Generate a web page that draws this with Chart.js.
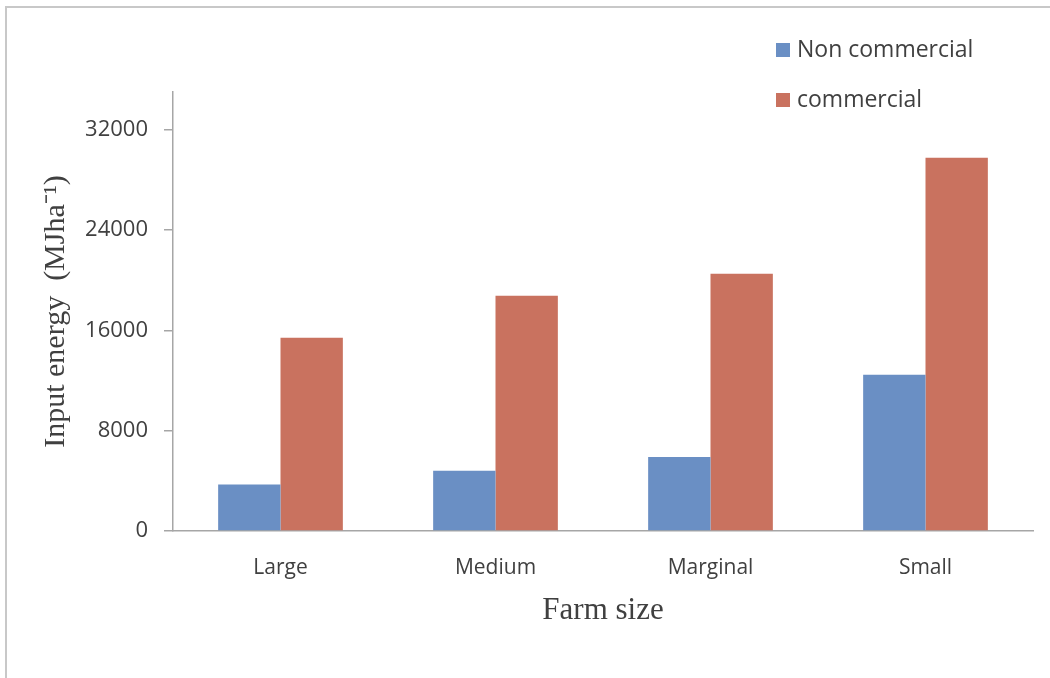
<!DOCTYPE html>
<html>
<head>
<meta charset="utf-8">
<script src="https://cdn.jsdelivr.net/npm/chart.js@4/dist/chart.umd.min.js"></script>
<style>
html,body{margin:0;padding:0;background:#fff;}
#wrap{width:1050px;height:678px;position:relative;}
</style>
</head>
<body>
<div id="wrap"><canvas id="c" width="1050" height="678"></canvas></div>
<script>
const categories = ["Large", "Medium", "Marginal", "Small"];
const seriesNames = ["Non commercial", "commercial"];
const nonCommercial = [3700, 4800, 5900, 12450];
const commercial = [15400, 18750, 20500, 29750];
const yTicks = [0, 8000, 16000, 24000, 32000];
const yMax = 35000;
const colors = ["#6a8fc4", "#c9725f"];
const axisColor = "#a6a6a6";
const textColor = "#404040";

const frameAndLegend = {
  id: "frameAndLegend",
  beforeDraw(chart) {
    const ctx = chart.ctx;
    ctx.save();
    ctx.fillStyle = "#fff";
    ctx.fillRect(0, 0, chart.width, chart.height);
    ctx.strokeStyle = "#c8c8c8";
    ctx.lineWidth = 2;
    ctx.beginPath();
    ctx.moveTo(6, chart.height);
    ctx.lineTo(6, 7);
    ctx.lineTo(chart.width, 7);
    ctx.stroke();
    ctx.restore();
  },
  afterDraw(chart) {
    const ctx = chart.ctx;
    ctx.save();
    ctx.font = "23px 'Open Sans'";
    ctx.textBaseline = "middle";
    chart.data.datasets.forEach((ds, i) => {
      const y = 50 + i * 50;
      ctx.fillStyle = ds.backgroundColor;
      ctx.fillRect(776, y - 7, 14, 14);
      ctx.fillStyle = textColor;
      ctx.fillText(ds.label, 797, y);
    });
    ctx.restore();
  }
};

new Chart(document.getElementById("c"), {
  type: "bar",
  data: {
    labels: categories,
    datasets: [
      { label: seriesNames[0], data: nonCommercial, backgroundColor: colors[0] },
      { label: seriesNames[1], data: commercial, backgroundColor: colors[1] }
    ]
  },
  options: {
    responsive: false,
    animation: false,
    devicePixelRatio: 1,
    layout: { padding: { left: 30, top: 92, right: 17, bottom: 47 } },
    datasets: { bar: { categoryPercentage: 0.58, barPercentage: 1.0, borderWidth: 0 } },
    plugins: { legend: { display: false }, tooltip: { enabled: false } },
    scales: {
      x: {
        grid: { display: false, drawTicks: false },
        border: { display: true, color: axisColor, width: 1.5 },
        ticks: { padding: 24, color: textColor, font: { family: "'Open Sans'", size: 21 } },
        title: { display: true, text: "Farm size", color: textColor,
                 font: { family: "'Liberation Serif'", size: 31 }, padding: { top: 0, bottom: 2 } },
        afterFit(s) { s.height = 100; }
      },
      y: {
        min: 0, max: yMax,
        afterBuildTicks(s) { s.ticks = yTicks.map(v => ({ value: v })); },
        grid: { drawOnChartArea: false, drawTicks: true, tickLength: 9, color: axisColor, lineWidth: 1.5 },
        border: { display: true, color: axisColor, width: 1.5 },
        ticks: { padding: 16, color: textColor, font: { family: "'Open Sans'", size: 22 },
                 callback: (v) => String(v) },
        title: { display: true, text: "Input energy  (MJha\u207B\u00B9)", color: textColor,
                 font: { family: "'Liberation Serif'", size: 30 }, padding: { top: 8, bottom: 0 } },
        afterFit(s) { s.width = 143; }
      }
    }
  },
  plugins: [frameAndLegend]
});
</script>
</body>
</html>
